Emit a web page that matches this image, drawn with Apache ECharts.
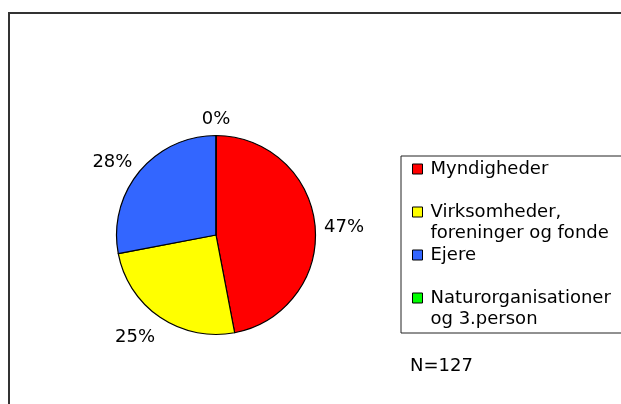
<!DOCTYPE html>
<html>
<head>
<meta charset="utf-8">
<script src="https://cdn.jsdelivr.net/npm/echarts@6/dist/echarts.min.js"></script>
<style>
  html, body { margin: 0; padding: 0; background: #fff; }
  #chart { width: 621px; height: 404px; }
</style>
</head>
<body>
<div id="chart"></div>
<script>
// værdier (procent)
const categories = ['Myndigheder', 'Virksomheder,\nforeninger og fonde', 'Ejere', 'Naturorganisationer\nog 3.person'];
const shares = [47, 25, 28, 0];
const colours = ['#FF0000', '#FFFF00', '#3366FF', '#00FF00'];
const sampleSize = 127;

const pieCenter = [216, 235];
const pieRadius = 99.5;
const total = shares.reduce((a, b) => a + b, 0);

// placer etiketten uden for kagen, ligesom i regnearket
const placeLabel = params => {
  const i = params.dataIndex;
  let before = 0;
  for (let k = 0; k < i; k += 1) before += shares[k];
  const theta = (before + shares[i] / 2) / total * Math.PI * 2;
  const dx = Math.sin(theta);
  const dy = -Math.cos(theta);
  const w = params.labelRect.width;
  const h = params.labelRect.height;
  const gap = 9;
  const px = pieCenter[0] + pieRadius * dx;
  const py = pieCenter[1] + pieRadius * dy;
  const sx = Math.abs(dx) < 1e-6 ? 0 : Math.sign(dx) * Math.min(1, Math.abs(dx) * 2);
  return {
    x: px + dx * gap + sx * w / 2,
    y: py + dy * gap + dy * h / 2 + 3.5,
    align: 'center',
    verticalAlign: 'middle',
  };
};

const chart = echarts.init(document.getElementById('chart'));
chart.setOption({
  backgroundColor: '#ffffff',
  animation: false,
  textStyle: { fontFamily: 'DejaVu Sans' },
  color: colours,
  title: {
    text: 'N=' + sampleSize,
    left: 410,
    top: 357,
    padding: 0,
    textStyle: { fontFamily: 'DejaVu Sans', fontSize: 18, fontWeight: 'normal', color: '#000' },
  },
  graphic: [{
    type: 'rect',
    shape: { x: 9, y: 13, width: 700, height: 500 },
    style: { fill: 'none', stroke: '#333', lineWidth: 2 },
    silent: true,
  }],
  legend: {
    orient: 'vertical',
    left: 401,
    top: 156,
    padding: [2.5, 30, 3.5, 11],
    itemGap: 1,
    itemWidth: 10,
    itemHeight: 10,
    icon: 'rect',
    selectedMode: false,
    borderColor: '#222',
    borderWidth: 1,
    itemStyle: { borderColor: '#000', borderWidth: 1 },
    // tom første linje, så ikonet står ud for første tekstlinje
    formatter: name => (name.indexOf('\n') > -1 ? '\n' + name : name),
    textStyle: { fontFamily: 'DejaVu Sans', fontSize: 18, lineHeight: 21, color: '#000', padding: [0, 0, 0, 3] },
    data: categories,
  },
  series: [{
    type: 'pie',
    center: pieCenter,
    radius: pieRadius,
    startAngle: 90,
    clockwise: true,
    avoidLabelOverlap: false,
    itemStyle: { borderColor: '#000', borderWidth: 1.2 },
    label: {
      show: true,
      position: 'outside',
      formatter: '{c}%',
      fontFamily: 'DejaVu Sans',
      fontSize: 18,
      lineHeight: 21,
      color: '#000',
    },
    labelLine: { show: false },
    labelLayout: placeLabel,
    emphasis: { disabled: true },
    data: categories.map((name, i) => ({ name, value: shares[i] })),
  }],
});
</script>
</body>
</html>
